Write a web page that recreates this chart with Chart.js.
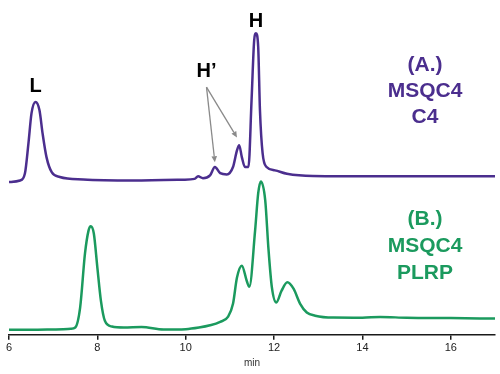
<!DOCTYPE html>
<html>
<head>
<meta charset="utf-8">
<script src="https://cdn.jsdelivr.net/npm/chart.js@4"></script>
<style>
  html, body { margin: 0; padding: 0; background: #fff; }
  #wrap { width: 500px; height: 374px; position: relative; }
</style>
</head>
<body>
<div id="wrap"><canvas id="c" width="500" height="374"></canvas></div>
<script>
// ---- data ----
const xTicks = [6, 8, 10, 12, 14, 16];

// (A.) MSQC4 C4 trace: retention time (min), signal (arbitrary units above its baseline)
const timeA = [6.0, 6.25, 6.36, 6.44, 6.51, 6.60, 6.69, 6.76, 6.85, 6.97, 7.15, 7.68, 8.81, 9.94, 10.2, 10.28, 10.39, 10.55, 10.66, 10.78, 10.93, 11.07, 11.16, 11.21, 11.27, 11.34, 11.42, 11.49, 11.55, 11.59, 11.64, 11.68, 11.74, 11.83, 12.02, 12.29, 12.88, 14.4, 17.0];
const signalA = [0.1, 0.6, 2.8, 12.2, 21.6, 25.1, 22.5, 15.3, 7.8, 3.1, 1.7, 0.9, 0.6, 0.85, 1.1, 1.9, 1.3, 2.2, 4.8, 2.9, 2.5, 4.8, 10.0, 11.6, 7.9, 4.8, 4.8, 25.6, 44.4, 46.5, 42.3, 22.5, 9.1, 4.8, 3.75, 2.7, 2.0, 1.9, 1.9];

// (B.) MSQC4 PLRP trace
const timeB = [6.0, 6.5, 7.0, 7.4, 7.5, 7.61, 7.72, 7.80, 7.85, 7.92, 8.0, 8.08, 8.17, 8.33, 8.6, 9.0, 9.5, 10.0, 10.3, 10.55, 10.78, 10.96, 11.07, 11.16, 11.27, 11.38, 11.44, 11.57, 11.64, 11.70, 11.80, 11.87, 11.95, 12.05, 12.17, 12.30, 12.44, 12.59, 12.74, 12.93, 13.34, 14.0, 14.4, 15.0, 16.0, 17.0];
const signalB = [0, 0, 0.1, 0.3, 0.7, 6.9, 23.8, 30.9, 32.3, 30.0, 19.4, 9.1, 2.8, 1.0, 0.7, 0.85, 0.1, 0.2, 0.7, 1.4, 2.5, 4.1, 8.1, 16.3, 20.0, 15.3, 13.4, 30.9, 42.5, 46.25, 40.3, 25.7, 13.2, 8.5, 12.2, 14.8, 12.8, 8.1, 5.4, 4.4, 3.8, 3.75, 4.0, 3.75, 3.65, 3.5];

const purple = '#4B2E8E';
const green = '#1B9A5E';

const ptsA = timeA.map((t, i) => ({ x: t, y: signalA[i] }));
const ptsB = timeB.map((t, i) => ({ x: t, y: signalB[i] }));

const annot = {
  id: 'annot',
  afterDraw(chart) {
    const ctx = chart.ctx;
    const x = chart.scales.x, yA = chart.scales.yA;
    ctx.save();
    ctx.textAlign = 'center';
    ctx.textBaseline = 'middle';
    // peak labels
    ctx.fillStyle = '#000';
    ctx.font = 'bold 20px "Liberation Sans", Arial, sans-serif';
    ctx.fillText('L', x.getPixelForValue(6.6), 86);
    ctx.fillText('H', x.getPixelForValue(11.59), 21);
    ctx.fillText('H\u2019', x.getPixelForValue(10.47), 71);
    // arrows
    const sx = x.getPixelForValue(10.47), sy = yA.getPixelForValue(29.7);
    const ends = [[10.66, 6.3], [11.16, 14.0]];
    ctx.strokeStyle = '#8a8a8a';
    ctx.fillStyle = '#8a8a8a';
    ctx.lineWidth = 1.3;
    ends.forEach(([ex, ey]) => {
      const px = x.getPixelForValue(ex), py = yA.getPixelForValue(ey);
      const ang = Math.atan2(py - sy, px - sx);
      const hl = 6, hw = 2.8;
      const bx = px - hl * Math.cos(ang), by = py - hl * Math.sin(ang);
      ctx.beginPath();
      ctx.moveTo(sx, sy);
      ctx.lineTo(bx, by);
      ctx.stroke();
      ctx.beginPath();
      ctx.moveTo(px, py);
      ctx.lineTo(bx + hw * Math.sin(ang), by - hw * Math.cos(ang));
      ctx.lineTo(bx - hw * Math.sin(ang), by + hw * Math.cos(ang));
      ctx.closePath();
      ctx.fill();
    });
    // series labels
    ctx.font = 'bold 21px "Liberation Sans", Arial, sans-serif';
    ctx.fillStyle = purple;
    ['(A.)', 'MSQC4', 'C4'].forEach((t, i) => ctx.fillText(t, 425, 65 + i * 26));
    ctx.fillStyle = green;
    ['(B.)', 'MSQC4', 'PLRP'].forEach((t, i) => ctx.fillText(t, 425, 219 + i * 27));
    ctx.restore();
  }
};

new Chart(document.getElementById('c'), {
  type: 'line',
  data: {
    datasets: [
      { label: '(A.) MSQC4 C4', data: ptsA, yAxisID: 'yA', borderColor: purple, borderWidth: 2.5, pointRadius: 0, cubicInterpolationMode: 'monotone', fill: false },
      { label: '(B.) MSQC4 PLRP', data: ptsB, yAxisID: 'yB', borderColor: green, borderWidth: 2.5, pointRadius: 0, cubicInterpolationMode: 'monotone', fill: false }
    ]
  },
  options: {
    responsive: false,
    animation: false,
    layout: { padding: { left: 9, right: 5, top: 14, bottom: 0 } },
    plugins: { legend: { display: false }, tooltip: { enabled: false } },
    scales: {
      x: {
        type: 'linear', min: 6, max: 17,
        afterBuildTicks: (axis) => { axis.ticks = xTicks.map(v => ({ value: v })); },
        border: { display: true, color: '#1a1a1a', width: 1.5 },
        grid: { display: true, drawOnChartArea: false, drawTicks: true, tickLength: 5, color: '#1a1a1a', lineWidth: 1.5 },
        ticks: { color: '#222', font: { family: '"Liberation Sans", Arial, sans-serif', size: 11 }, padding: 2, maxRotation: 0 },
        title: { display: true, text: 'min', color: '#333', font: { family: '"Liberation Sans", Arial, sans-serif', size: 10 }, padding: { top: 0, bottom: 5 } }
      },
      yA: { type: 'linear', display: false, min: -47.5, max: 52.5 },
      yB: { type: 'linear', display: false, min: -1.5625, max: 98.4375 }
    }
  },
  plugins: [annot]
});
</script>
</body>
</html>
